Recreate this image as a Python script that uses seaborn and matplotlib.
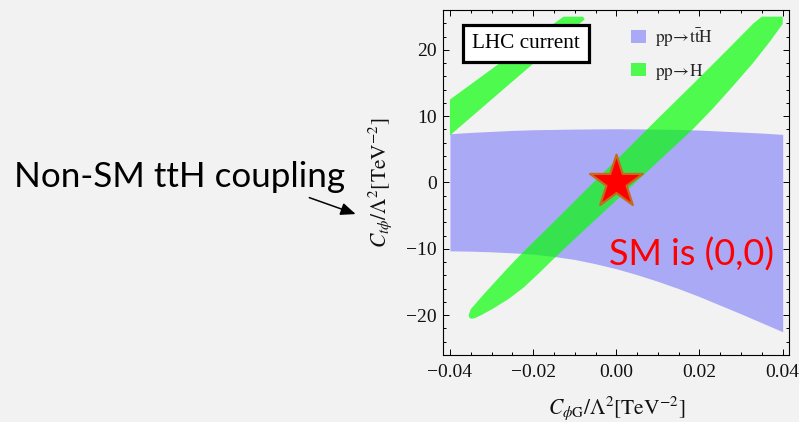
import matplotlib
matplotlib.use("Agg")
import matplotlib.pyplot as plt
from matplotlib.patches import Patch, FancyArrowPatch
from matplotlib.ticker import MultipleLocator
import seaborn as sns
import pandas as pd

# --- constraint regions in the (C_phiG, C_tphi) plane ---
# pp -> ttH band: lower / upper edges
tth_x = [-0.04, -0.035, -0.03, -0.025, -0.02, -0.015, -0.01, -0.005, 0.0,
         0.005, 0.01, 0.015, 0.02, 0.025, 0.03, 0.035, 0.04]
tth_lo = [-10.3, -10.35, -10.45, -10.6, -10.8, -11.15, -11.6, -12.25, -13.0,
          -13.9, -14.9, -16.0, -17.2, -18.5, -19.8, -21.15, -22.5]
tth_hi = [7.35, 7.55, 7.7, 7.85, 7.95, 8.0, 8.05, 8.08, 8.1,
          8.08, 8.05, 8.0, 7.9, 7.75, 7.6, 7.45, 7.25]

# pp -> H: main band, upper-left edge (from the lower tip upwards)
h_left_x = [-0.0348, -0.0353, -0.0355, -0.0350, -0.0336, -0.0318, -0.0296, -0.0264,
            -0.0232, -0.0135, -0.0055, 0.0026, 0.0106, 0.0187, 0.0267, 0.0330, 0.0350]
h_left_y = [-20.55, -20.4, -20.0, -19.1, -18.1, -16.8, -15.3, -13.1,
            -11.0, -5.0, 0.0, 5.0, 10.0, 15.0, 20.0, 24.0, 25.0]
# pp -> H: main band, lower-right edge (from the top downwards)
h_right_x = [0.0400, 0.0400, 0.0370, 0.0330, 0.0278, 0.0230, 0.0181, 0.0120, 0.0060,
             0.0, -0.0050, -0.0100, -0.0152, -0.0188, -0.0224, -0.0260, -0.0296,
             -0.0325, -0.0340]
h_right_y = [25.0, 23.9, 21.3, 18.1, 14.35, 11.0, 7.83, 4.3, 0.8,
             -2.7, -5.6, -8.5, -11.6, -13.8, -15.9, -17.6, -19.0,
             -20.0, -20.45]

# pp -> H: second branch (upper left)
h_side_x = [-0.04, -0.04, -0.0127, -0.0080, -0.0076]
h_side_y = [7.1, 12.5, 25.0, 25.0, 24.6]

# Standard Model point
sm_point = pd.DataFrame({"cphig": [0.0], "ctphi": [0.0]})

xticks = [-0.04, -0.02, 0.0, 0.02, 0.04]
xticklabels = ["\u22120.04", "\u22120.02", "0.00", "0.02", "0.04"]
yticks = [-20, -10, 0, 10, 20]
yticklabels = ["\u221220", "\u221210", "0", "10", "20"]

BG = "#f2f2f2"
sns.set_theme(style="ticks", rc={"axes.facecolor": BG, "figure.facecolor": BG,
                                 "savefig.facecolor": BG})
plt.rcParams["font.family"] = ["Liberation Serif", "DejaVu Serif"]
plt.rcParams["mathtext.fontset"] = "stix"
plt.rcParams["axes.unicode_minus"] = True

fig = plt.figure(figsize=(7.99, 4.22), dpi=100)
ax = fig.add_axes([0.5548, 0.1588, 0.4331, 0.8175])

ax.fill_between(tth_x, tth_lo, tth_hi, color=(0, 0, 1), alpha=0.3, lw=0, zorder=1)
ax.fill(h_left_x + h_right_x, h_left_y + h_right_y, color=(0, 1, 0), alpha=0.68,
        lw=0, zorder=2)
ax.fill(h_side_x, h_side_y, color=(0, 1, 0), alpha=0.68, lw=0, zorder=2)

sns.scatterplot(data=sm_point, x="cphig", y="ctphi", marker="*", s=40 ** 2,
                color="red", edgecolor="#c8691e", linewidth=1.6, zorder=4,
                ax=ax, legend=False)

ax.set_xlim(-0.0416, 0.0416)
ax.set_ylim(-26.0, 26.0)
ax.set_xticks(xticks)
ax.set_xticklabels(xticklabels)
ax.set_yticks(yticks)
ax.set_yticklabels(yticklabels)
ax.xaxis.set_minor_locator(MultipleLocator(0.005))
ax.yaxis.set_minor_locator(MultipleLocator(2))
ax.tick_params(which="both", direction="in", top=True, right=True,
               color="black", width=0.7, labelsize=14, labelcolor="#111111")
ax.tick_params(which="major", length=4.2)
ax.tick_params(which="minor", length=2.4)
ax.tick_params(axis="x", pad=6.5)
ax.tick_params(axis="y", pad=4.5)
for sp in ax.spines.values():
    sp.set_color("black")
    sp.set_linewidth(0.8)

ax.set_xlabel(r"$C_{\phi\mathrm{G}}/\Lambda^2[\mathrm{TeV}^{-2}]$", fontsize=15.5,
              labelpad=9.5, color="#111111")
ax.set_ylabel(r"$C_{t\phi}/\Lambda^2[\mathrm{TeV}^{-2}]$", fontsize=15.5,
              labelpad=9, color="#111111")

# legend
handles = [Patch(facecolor=(0, 0, 1, 0.3), edgecolor="none"),
           Patch(facecolor=(0, 1, 0, 0.68), edgecolor="none")]
labels = [r"$\mathrm{pp}\!\rightarrow\!\mathrm{t\bar{t}H}$",
          r"$\mathrm{pp}\!\rightarrow\!\mathrm{H}$"]
ax.legend(handles, labels, loc="upper left", bbox_to_anchor=(0.5425, 0.952),
          frameon=False, fontsize=12.5, handlelength=0.86, handleheight=0.82,
          handletextpad=0.55, labelspacing=0.75, borderpad=0, borderaxespad=0)

ax.text(0.240, 0.902, "LHC current", transform=ax.transAxes, fontsize=15.3,
        ha="center", va="center", color="black", zorder=6,
        bbox=dict(boxstyle="square,pad=0.42", fc="white", ec="black", lw=2.3))

ax.text(-0.0018, -12.5, "SM is (0,0)", fontsize=26, family=["Lato", "DejaVu Sans"],
        color="red", ha="left", va="baseline", zorder=5)

# annotation on the left
fig.text(13.5 / 799, 1 - 187.3 / 422, "Non-SM ttH coupling", fontsize=25.2,
         family=["Lato", "DejaVu Sans"], color="black", ha="left", va="baseline")
fig.add_artist(FancyArrowPatch(
    (306.7, 422 - 196.7), (358.3, 422 - 215), transform=None,
    arrowstyle="-|>,head_length=0.6,head_width=0.25", mutation_scale=15,
    color="black", lw=1.1))

fig.savefig("out.png", dpi=100)
